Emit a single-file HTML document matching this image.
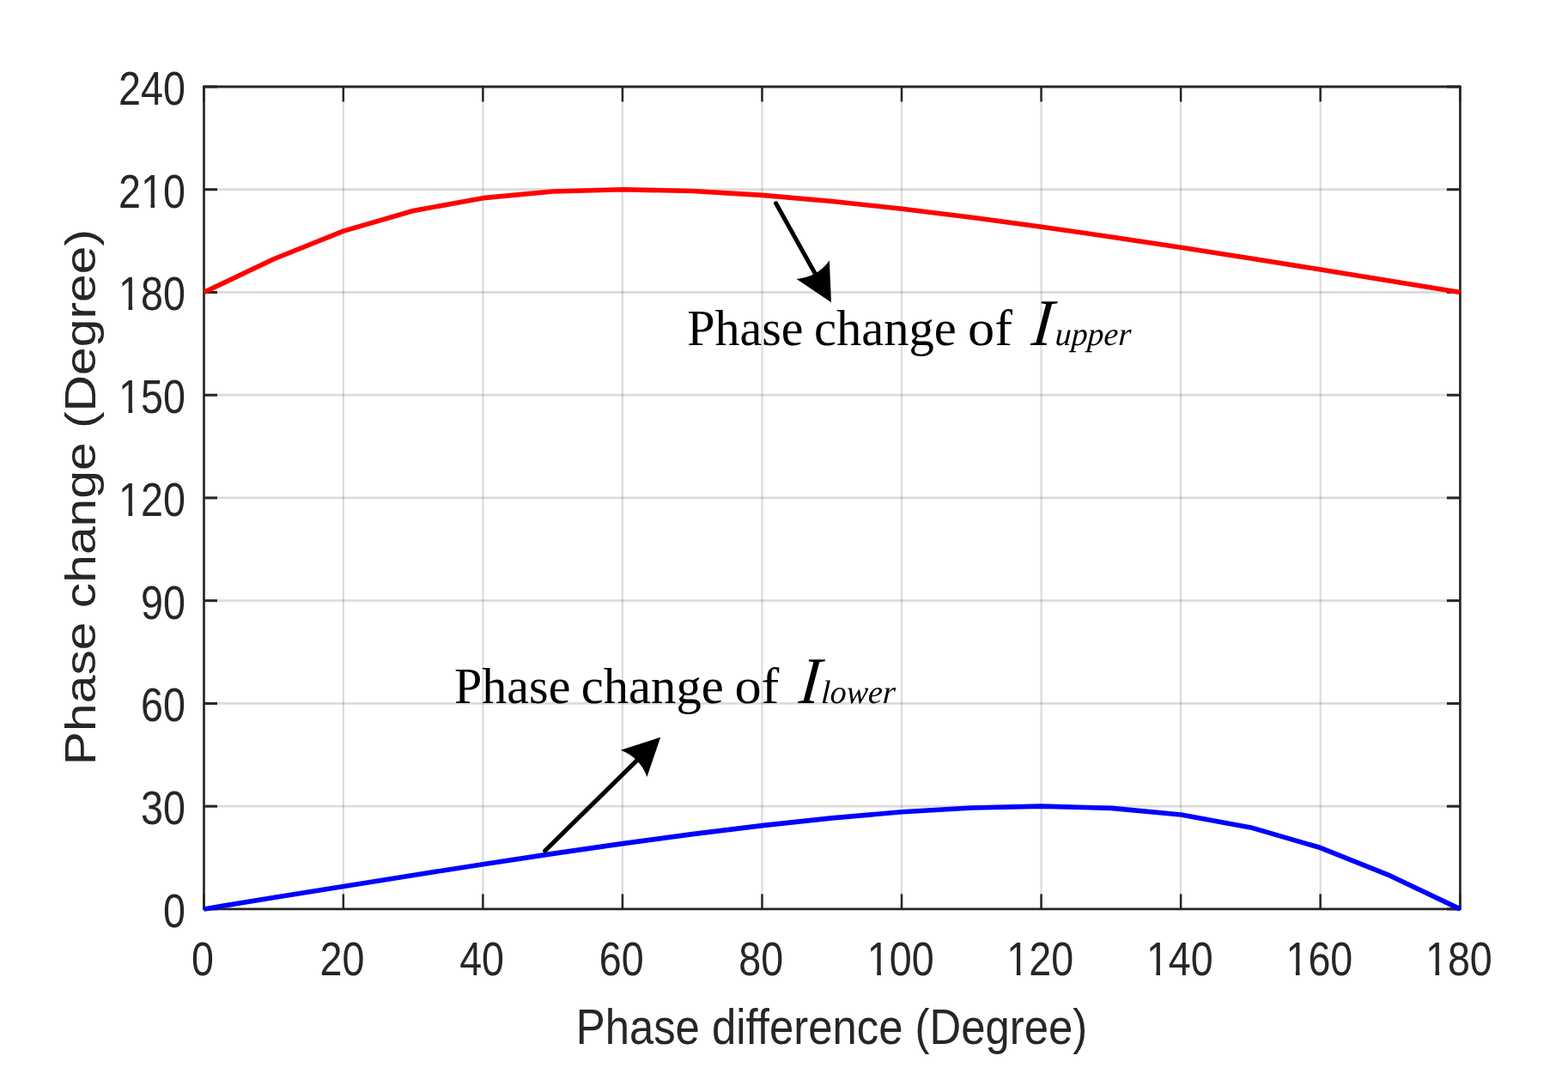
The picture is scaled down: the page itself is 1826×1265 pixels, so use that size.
<!DOCTYPE html>
<html lang="en"><head><meta charset="utf-8"><title>Figure</title>
<style>html,body{margin:0;padding:0;background:#fff;}body{width:1826px;height:1265px;overflow:hidden;}svg{display:block;}.tk{font-family:"Liberation Sans",sans-serif;fill:#262626;}.an{font-family:"Liberation Serif",serif;fill:#000;}</style></head><body>
<svg width="1826" height="1265" viewBox="0 0 1826 1265">
<rect x="0" y="0" width="1826" height="1265" fill="#ffffff"/>
<g stroke="#262626" stroke-opacity="0.16" fill="none">
<line x1="399.844" y1="101" x2="399.844" y2="1058.9" stroke-width="2.3"/>
<line x1="562.389" y1="101" x2="562.389" y2="1058.9" stroke-width="2.3"/>
<line x1="724.933" y1="101" x2="724.933" y2="1058.9" stroke-width="2.3"/>
<line x1="887.478" y1="101" x2="887.478" y2="1058.9" stroke-width="2.3"/>
<line x1="1050.022" y1="101" x2="1050.022" y2="1058.9" stroke-width="2.3"/>
<line x1="1212.567" y1="101" x2="1212.567" y2="1058.9" stroke-width="2.3"/>
<line x1="1375.111" y1="101" x2="1375.111" y2="1058.9" stroke-width="2.3"/>
<line x1="1537.656" y1="101" x2="1537.656" y2="1058.9" stroke-width="2.3"/>
<line x1="237.5" y1="939.163" x2="1700.4" y2="939.163" stroke-width="2.8"/>
<line x1="237.5" y1="819.425" x2="1700.4" y2="819.425" stroke-width="2.8"/>
<line x1="237.5" y1="699.688" x2="1700.4" y2="699.688" stroke-width="2.8"/>
<line x1="237.5" y1="579.95" x2="1700.4" y2="579.95" stroke-width="2.8"/>
<line x1="237.5" y1="460.213" x2="1700.4" y2="460.213" stroke-width="2.8"/>
<line x1="237.5" y1="340.475" x2="1700.4" y2="340.475" stroke-width="2.8"/>
<line x1="237.5" y1="220.737" x2="1700.4" y2="220.737" stroke-width="2.8"/>
</g>
<g stroke="#262626" fill="none" stroke-linecap="round">
<line x1="237.5" y1="101" x2="1700.4" y2="101" stroke-width="2.9"/>
<line x1="237.5" y1="1058.9" x2="1700.4" y2="1058.9" stroke-width="2.9"/>
<line x1="237.5" y1="101" x2="237.5" y2="1058.9" stroke-width="2.7"/>
<line x1="1700.4" y1="101" x2="1700.4" y2="1058.9" stroke-width="2.7"/>
</g>
<g stroke="#262626" fill="none" stroke-linecap="butt">
<line x1="237.3" y1="1058.9" x2="237.3" y2="1041.4" stroke-width="2.5"/>
<line x1="237.3" y1="101" x2="237.3" y2="118.5" stroke-width="2.5"/>
<line x1="399.844" y1="1058.9" x2="399.844" y2="1041.4" stroke-width="2.5"/>
<line x1="399.844" y1="101" x2="399.844" y2="118.5" stroke-width="2.5"/>
<line x1="562.389" y1="1058.9" x2="562.389" y2="1041.4" stroke-width="2.5"/>
<line x1="562.389" y1="101" x2="562.389" y2="118.5" stroke-width="2.5"/>
<line x1="724.933" y1="1058.9" x2="724.933" y2="1041.4" stroke-width="2.5"/>
<line x1="724.933" y1="101" x2="724.933" y2="118.5" stroke-width="2.5"/>
<line x1="887.478" y1="1058.9" x2="887.478" y2="1041.4" stroke-width="2.5"/>
<line x1="887.478" y1="101" x2="887.478" y2="118.5" stroke-width="2.5"/>
<line x1="1050.022" y1="1058.9" x2="1050.022" y2="1041.4" stroke-width="2.5"/>
<line x1="1050.022" y1="101" x2="1050.022" y2="118.5" stroke-width="2.5"/>
<line x1="1212.567" y1="1058.9" x2="1212.567" y2="1041.4" stroke-width="2.5"/>
<line x1="1212.567" y1="101" x2="1212.567" y2="118.5" stroke-width="2.5"/>
<line x1="1375.111" y1="1058.9" x2="1375.111" y2="1041.4" stroke-width="2.5"/>
<line x1="1375.111" y1="101" x2="1375.111" y2="118.5" stroke-width="2.5"/>
<line x1="1537.656" y1="1058.9" x2="1537.656" y2="1041.4" stroke-width="2.5"/>
<line x1="1537.656" y1="101" x2="1537.656" y2="118.5" stroke-width="2.5"/>
<line x1="1700.2" y1="1058.9" x2="1700.2" y2="1041.4" stroke-width="2.5"/>
<line x1="1700.2" y1="101" x2="1700.2" y2="118.5" stroke-width="2.5"/>
<line x1="237.5" y1="1058.9" x2="253" y2="1058.9" stroke-width="3"/>
<line x1="1700.4" y1="1058.9" x2="1684.9" y2="1058.9" stroke-width="3"/>
<line x1="237.5" y1="939.163" x2="253" y2="939.163" stroke-width="3"/>
<line x1="1700.4" y1="939.163" x2="1684.9" y2="939.163" stroke-width="3"/>
<line x1="237.5" y1="819.425" x2="253" y2="819.425" stroke-width="3"/>
<line x1="1700.4" y1="819.425" x2="1684.9" y2="819.425" stroke-width="3"/>
<line x1="237.5" y1="699.688" x2="253" y2="699.688" stroke-width="3"/>
<line x1="1700.4" y1="699.688" x2="1684.9" y2="699.688" stroke-width="3"/>
<line x1="237.5" y1="579.95" x2="253" y2="579.95" stroke-width="3"/>
<line x1="1700.4" y1="579.95" x2="1684.9" y2="579.95" stroke-width="3"/>
<line x1="237.5" y1="460.213" x2="253" y2="460.213" stroke-width="3"/>
<line x1="1700.4" y1="460.213" x2="1684.9" y2="460.213" stroke-width="3"/>
<line x1="237.5" y1="340.475" x2="253" y2="340.475" stroke-width="3"/>
<line x1="1700.4" y1="340.475" x2="1684.9" y2="340.475" stroke-width="3"/>
<line x1="237.5" y1="220.737" x2="253" y2="220.737" stroke-width="3"/>
<line x1="1700.4" y1="220.737" x2="1684.9" y2="220.737" stroke-width="3"/>
<line x1="237.5" y1="101" x2="253" y2="101" stroke-width="3"/>
<line x1="1700.4" y1="101" x2="1684.9" y2="101" stroke-width="3"/>
</g>
<polyline points="237.5,340.475 318.772,301.734 400.044,269.119 481.317,245.507 562.589,230.653 643.861,222.967 725.133,220.737 806.406,222.561 887.678,227.385 968.95,234.447 1050.222,243.193 1131.494,253.217 1212.767,264.216 1294.039,275.957 1375.311,288.26 1456.583,300.977 1537.856,313.988 1619.128,327.186 1700.4,340.475" fill="none" stroke="#ff0000" stroke-width="5.6" stroke-linejoin="round" stroke-linecap="butt"/>
<polyline points="237.5,1058.9 318.772,1045.611 400.044,1032.413 481.317,1019.402 562.589,1006.685 643.861,994.382 725.133,982.641 806.406,971.642 887.678,961.618 968.95,952.872 1050.222,945.81 1131.494,940.986 1212.767,939.163 1294.039,941.392 1375.311,949.078 1456.583,963.932 1537.856,987.544 1619.128,1020.159 1700.4,1058.9" fill="none" stroke="#0000ff" stroke-width="5.6" stroke-linejoin="round" stroke-linecap="butt"/>
<text class="tk" transform="translate(215.9 1079.8) scale(0.848 1)" font-size="55" text-anchor="end">0</text>
<text class="tk" transform="translate(215.9 960.063) scale(0.848 1)" font-size="55" text-anchor="end">30</text>
<text class="tk" transform="translate(215.9 840.325) scale(0.848 1)" font-size="55" text-anchor="end">60</text>
<text class="tk" transform="translate(215.9 720.587) scale(0.848 1)" font-size="55" text-anchor="end">90</text>
<text class="tk" transform="translate(215.9 600.85) scale(0.848 1)" font-size="55" text-anchor="end">120</text>
<g fill="#ffffff" transform="translate(215.9 600.85) scale(0.848 1)"><rect x="-92.839" y="-5.505" width="14.609" height="6.58"/><rect x="-72.778" y="-5.505" width="12.703" height="6.58"/></g>
<text class="tk" transform="translate(215.9 481.113) scale(0.848 1)" font-size="55" text-anchor="end">150</text>
<g fill="#ffffff" transform="translate(215.9 481.113) scale(0.848 1)"><rect x="-92.839" y="-5.505" width="14.609" height="6.58"/><rect x="-72.778" y="-5.505" width="12.703" height="6.58"/></g>
<text class="tk" transform="translate(215.9 361.375) scale(0.848 1)" font-size="55" text-anchor="end">180</text>
<g fill="#ffffff" transform="translate(215.9 361.375) scale(0.848 1)"><rect x="-92.839" y="-5.505" width="14.609" height="6.58"/><rect x="-72.778" y="-5.505" width="12.703" height="6.58"/></g>
<text class="tk" transform="translate(215.9 241.637) scale(0.848 1)" font-size="55" text-anchor="end">210</text>
<g fill="#ffffff" transform="translate(215.9 241.637) scale(0.848 1)"><rect x="-62.251" y="-5.505" width="14.609" height="6.58"/><rect x="-42.19" y="-5.505" width="12.703" height="6.58"/></g>
<text class="tk" transform="translate(215.9 121.9) scale(0.848 1)" font-size="55" text-anchor="end">240</text>
<text class="tk" transform="translate(236 1136.2) scale(0.848 1)" font-size="55" text-anchor="middle">0</text>
<text class="tk" transform="translate(398.544 1136.2) scale(0.848 1)" font-size="55" text-anchor="middle">20</text>
<text class="tk" transform="translate(561.089 1136.2) scale(0.848 1)" font-size="55" text-anchor="middle">40</text>
<text class="tk" transform="translate(723.633 1136.2) scale(0.848 1)" font-size="55" text-anchor="middle">60</text>
<text class="tk" transform="translate(886.178 1136.2) scale(0.848 1)" font-size="55" text-anchor="middle">80</text>
<text class="tk" transform="translate(1048.722 1136.2) scale(0.848 1)" font-size="55" text-anchor="middle">100</text>
<g fill="#ffffff" transform="translate(1048.722 1136.2) scale(0.848 1)"><rect x="-46.957" y="-5.505" width="14.609" height="6.58"/><rect x="-26.896" y="-5.505" width="12.703" height="6.58"/></g>
<text class="tk" transform="translate(1211.267 1136.2) scale(0.848 1)" font-size="55" text-anchor="middle">120</text>
<g fill="#ffffff" transform="translate(1211.267 1136.2) scale(0.848 1)"><rect x="-46.957" y="-5.505" width="14.609" height="6.58"/><rect x="-26.896" y="-5.505" width="12.703" height="6.58"/></g>
<text class="tk" transform="translate(1373.811 1136.2) scale(0.848 1)" font-size="55" text-anchor="middle">140</text>
<g fill="#ffffff" transform="translate(1373.811 1136.2) scale(0.848 1)"><rect x="-46.957" y="-5.505" width="14.609" height="6.58"/><rect x="-26.896" y="-5.505" width="12.703" height="6.58"/></g>
<text class="tk" transform="translate(1536.356 1136.2) scale(0.848 1)" font-size="55" text-anchor="middle">160</text>
<g fill="#ffffff" transform="translate(1536.356 1136.2) scale(0.848 1)"><rect x="-46.957" y="-5.505" width="14.609" height="6.58"/><rect x="-26.896" y="-5.505" width="12.703" height="6.58"/></g>
<text class="tk" transform="translate(1698.9 1136.2) scale(0.848 1)" font-size="55" text-anchor="middle">180</text>
<g fill="#ffffff" transform="translate(1698.9 1136.2) scale(0.848 1)"><rect x="-46.957" y="-5.505" width="14.609" height="6.58"/><rect x="-26.896" y="-5.505" width="12.703" height="6.58"/></g>
<text class="tk" transform="translate(968.45 1216.1) scale(0.886 1)" font-size="57.4" text-anchor="middle">Phase difference (Degree)</text>
<text class="tk" transform="translate(110.9 579.1) rotate(-90) scale(1.176 1)" font-size="50" text-anchor="middle">Phase change (Degree)</text>
<line x1="903.6" y1="236.8" x2="949.689" y2="319.46" stroke="#000" stroke-width="5" stroke-linecap="round"/>
<path d="M968 352.3L927.64 324.885Q951.637 322.954 965.895 303.554Z" fill="#000"/>
<line x1="634.5" y1="991.1" x2="742.375" y2="885.147" stroke="#000" stroke-width="5" stroke-linecap="round"/>
<path d="M769.2 858.8L753.44 904.976Q745.229 882.344 722.748 873.727Z" fill="#000"/>
<text class="an" y="401.8" font-size="58.9" style="font-kerning:none"><tspan x="800.2" textLength="135.353" lengthAdjust="spacingAndGlyphs">Phase</tspan> <tspan x="947.9" textLength="165.944" lengthAdjust="spacingAndGlyphs">change</tspan> <tspan x="1127" textLength="52.008" lengthAdjust="spacingAndGlyphs">of</tspan></text>
<text class="an" transform="translate(1200.1 401.8) skewX(-5.6) scale(0.93 1)" font-size="77.5" font-style="italic">I</text>
<text class="an" transform="translate(1228.2 401.8) skewX(-3) scale(0.99 1)" font-size="38.3" font-style="italic">upper</text>
<text class="an" y="818.9" font-size="58.9" style="font-kerning:none"><tspan x="529.1" textLength="135.353" lengthAdjust="spacingAndGlyphs">Phase</tspan> <tspan x="676.8" textLength="165.944" lengthAdjust="spacingAndGlyphs">change</tspan> <tspan x="855.4" textLength="52.008" lengthAdjust="spacingAndGlyphs">of</tspan></text>
<text class="an" transform="translate(929.3 818.9) skewX(-5.6) scale(0.93 1)" font-size="77.5" font-style="italic">I</text>
<text class="an" transform="translate(955.8 818.9) skewX(-3) scale(0.99 1)" font-size="38.3" font-style="italic">lower</text>
</svg></body></html>
